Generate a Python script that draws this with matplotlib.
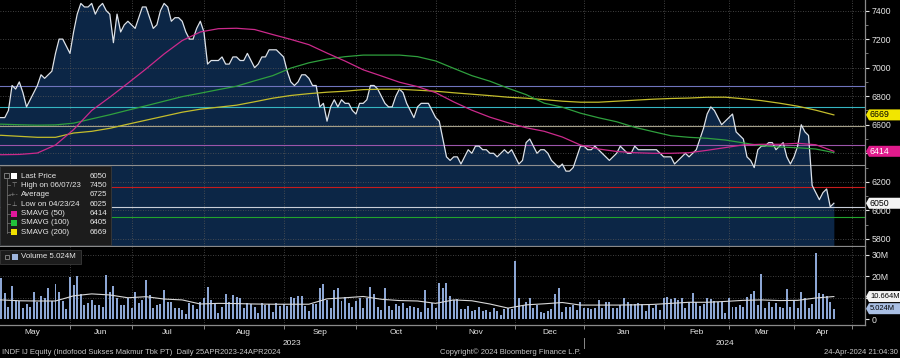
import numpy as np
import pandas as pd
import matplotlib
matplotlib.use('Agg')
import matplotlib.pyplot as plt
from matplotlib.patches import Rectangle, Polygon
import matplotlib.transforms as mtransforms

plt.rcParams['font.family'] = ['Liberation Sans', 'DejaVu Sans']

# ── Data ─────────────────────────────────────────────────────────────────────
# IDX exchange holidays, used to build the trading-day axis
holidays = ['2023-05-01', '2023-05-18', '2023-06-01', '2023-06-02', '2023-06-28',
            '2023-06-29', '2023-06-30', '2023-07-19', '2023-08-17', '2023-09-28',
            '2023-12-25', '2023-12-26', '2024-01-01', '2024-02-08', '2024-02-09',
            '2024-02-14', '2024-03-11', '2024-03-12', '2024-03-29', '2024-04-08',
            '2024-04-09', '2024-04-10', '2024-04-11', '2024-04-12', '2024-04-15',
            '2024-05-01', '2024-05-09', '2024-05-10']

# daily close, one value per trading day from 26-Apr-2023
price = [
    6625, 6625, 6650, 6650, 6650, 6650, 6650, 6700, 6875, 6850,
    6900, 6825, 6725, 6775, 6825, 6875, 6950, 6925, 6950, 6975,
    7100, 7200, 7200, 7150, 7100, 7250, 7375, 7450, 7425, 7425,
    7450, 7375, 7425, 7450, 7400, 7375, 7175, 7375, 7250, 7300,
    7325, 7300, 7275, 7350, 7425, 7425, 7350, 7275, 7300, 7400,
    7450, 7425, 7325, 7350, 7350, 7325, 7250, 7200, 7200, 7275,
    7325, 7250, 7025, 7050, 7050, 7050, 7075, 7025, 7025, 7075,
    7075, 7050, 7050, 7100, 7050, 7000, 7025, 7075, 7075, 7125,
    7125, 7125, 7100, 7075, 6975, 6900, 6875, 6900, 6950, 6950,
    6925, 6875, 6875, 6725, 6750, 6625, 6725, 6775, 6725, 6775,
    6750, 6750, 6700, 6675, 6750, 6750, 6775, 6875, 6875, 6850,
    6800, 6750, 6725, 6725, 6800, 6850, 6825, 6750, 6700, 6650,
    6725, 6750, 6750, 6750, 6700, 6650, 6625, 6500, 6375, 6350,
    6375, 6375, 6325, 6375, 6425, 6400, 6450, 6450, 6425, 6425,
    6400, 6400, 6375, 6400, 6425, 6400, 6425, 6375, 6325, 6350,
    6475, 6500, 6450, 6400, 6425, 6425, 6400, 6350, 6325, 6300,
    6325, 6275, 6275, 6300, 6375, 6450, 6450, 6425, 6425, 6450,
    6425, 6400, 6375, 6350, 6375, 6400, 6450, 6425, 6400, 6400,
    6450, 6425, 6425, 6425, 6425, 6425, 6425, 6400, 6375, 6375,
    6375, 6325, 6350, 6375, 6400, 6375, 6400, 6425, 6500, 6575,
    6675, 6725, 6700, 6650, 6600, 6625, 6650, 6675, 6550, 6525,
    6500, 6375, 6350, 6300, 6425, 6450, 6450, 6475, 6475, 6425,
    6450, 6475, 6375, 6325, 6375, 6450, 6600, 6550, 6525, 6175,
    6125, 6075, 6125, 6150, 6025, 6050,
]

# daily volume, millions of shares
volume_m = [
    9.0, 11.0, 8.0, 13.0, 10.0,
    19.2, 12.2, 6.0, 15.7, 9.1, 8.6, 5.2, 7.1, 6.0, 12.9,
    8.3, 11.1, 10.2, 14.5, 8.6, 16.5, 12.6, 8.6, 4.9, 19.9,
    16.0, 20.4, 11.7, 6.8, 7.5, 9.1, 6.8, 6.8, 6.0, 20.7,
    12.6, 15.7, 9.9, 6.8, 6.8, 9.9, 5.2, 12.9, 7.5, 9.1,
    18.4, 11.4, 5.2, 6.8, 7.1, 13.7, 8.0, 8.0, 5.5, 5.2,
    4.4, 2.4, 7.5, 6.8, 4.9, 8.3, 10.2, 15.3, 9.1, 7.5,
    2.9, 6.0, 11.7, 8.0, 11.4, 10.6, 9.9, 5.2, 7.5, 7.1,
    6.0, 2.9, 7.5, 6.8, 7.1, 3.7, 7.5, 6.4, 7.1, 6.4,
    10.6, 10.2, 11.1, 11.1, 6.4, 4.0, 7.1, 7.1, 14.8, 16.4,
    9.1, 5.2, 13.7, 14.5, 8.6, 10.6, 7.5, 6.0, 8.6, 9.9,
    5.2, 9.9, 15.1, 11.7, 6.0, 4.4, 14.5, 6.4, 4.4, 7.1,
    6.4, 7.5, 5.2, 6.4, 6.0, 5.2, 3.3, 13.7, 5.5, 7.5,
    5.5, 16.8, 14.8, 16.8, 11.1,
    9.1, 9.5, 4.9, 4.9, 6.3, 4.0, 4.4, 6.0, 4.0, 4.4,
    3.7, 5.2, 4.0, 2.1, 4.9, 5.2, 4.9, 27.2, 10.2, 6.8,
    8.0, 10.2, 5.2, 6.8, 3.7, 2.9, 4.0, 4.9, 11.7, 14.8,
    3.7, 6.0, 6.0, 6.8, 4.4, 8.3, 5.2, 5.2, 4.9, 5.2,
    9.1, 5.5, 8.0, 8.0, 5.2, 5.5, 6.8, 9.9, 8.0, 7.1,
    7.1, 7.5, 7.1, 4.0, 6.8, 5.2, 6.8, 4.4, 10.2, 10.6,
    9.5, 9.9, 9.1, 10.2, 5.2, 8.0, 12.2, 8.0, 6.4, 7.1,
    10.2, 9.5, 8.6, 8.3, 8.3, 2.9, 10.2, 6.0, 6.0, 6.8,
    6.0, 10.6, 11.7, 13.3, 6.8, 21.0, 5.2, 8.3, 6.0, 7.5,
    6.0, 5.5, 14.2, 6.0, 9.1, 5.2, 12.6, 9.9, 5.2, 7.1,
    30.8, 12.2, 11.7, 11.1, 8.0, 5.024,
]

# moving averages, sampled every 5th trading day
ma_step = 5
sma50 = [6400, 6390, 6392, 6402, 6458, 6566, 6700, 6793, 6891, 6991,
         7096, 7190, 7250, 7273, 7276, 7267, 7232, 7198, 7161, 7102,
         7046, 6985, 6942, 6898, 6867, 6825, 6760, 6702, 6653, 6614,
         6579, 6554, 6514, 6458, 6430, 6413, 6404, 6400, 6400, 6404,
         6421, 6440, 6459, 6463, 6463, 6470, 6460, 6414]
sma100 = [6604, 6604, 6600, 6597, 6599, 6611, 6641, 6670, 6702, 6733,
          6765, 6797, 6821, 6846, 6870, 6908, 6944, 6997, 7034, 7060,
          7077, 7088, 7088, 7088, 7077, 7047, 6995, 6944, 6905, 6856,
          6811, 6751, 6723, 6681, 6649, 6621, 6582, 6552, 6523, 6512,
          6505, 6493, 6473, 6453, 6444, 6439, 6430, 6405]
sma200 = [6526, 6526, 6519, 6512, 6512, 6542, 6554, 6575, 6604, 6632,
          6660, 6688, 6709, 6723, 6737, 6761, 6786, 6805, 6818, 6828,
          6835, 6846, 6849, 6849, 6842, 6835, 6824, 6814, 6804, 6793,
          6786, 6776, 6765, 6758, 6758, 6765, 6772, 6779, 6784, 6787,
          6793, 6793, 6782, 6769, 6751, 6730, 6702, 6669]
vol_avg_m = [9.0, 9.1, 8.7, 8.6, 8.6, 11.0, 11.9, 11.4, 10.1, 10.6,
             9.5, 9.1, 7.2, 7.5, 7.4, 7.2, 7.1, 7.1, 7.1, 9.6,
             10.1, 10.7, 9.4, 8.8, 8.6, 7.5, 9.1, 8.7, 7.2, 5.3,
             6.8, 7.3, 7.9, 6.7, 6.7, 6.7, 6.8, 7.0, 7.5, 8.0,
             8.0, 8.4, 8.9, 9.1, 8.8, 8.9, 10.0, 10.664]

# horizontal level lines drawn on the chart
levels = [6870, 6725, 6589, 6456, 6316, 6161, 6025, 5951]
level_colors = ['#6f74bd', '#35b6c2', '#a39e88', '#9b55aa', '#8e8e8e',
                '#c81c1c', '#c8ced8', '#22a52c']

legend_labels = ['Last Price', 'High on 06/07/23', 'Average', 'Low on 04/23/24',
                 'SMAVG (50)', 'SMAVG (100)', 'SMAVG (200)']
legend_values = ['6050', '7450', '6725', '6025', '6414', '6405', '6669']

price_ticks = [5800, 6000, 6200, 6400, 6600, 6800, 7000, 7200, 7400]
price_tick_labels = ['5800', '6000', '6200', '', '6600', '6800', '7000', '7200', '7400']
vol_ticks = [0, 10, 20, 30]
vol_tick_labels = ['0', '', '20M', '30M']

# ── Colours ──────────────────────────────────────────────────────────────────
C_FILL = '#0c2646'
C_PRICE = '#dce2ea'
C_MA50 = '#cc2a8c'
C_MA100 = '#2fa03e'
C_MA200 = '#c4bd2c'
C_VOL = '#8ca6d4'
C_GRID = '#565656'
C_AXIS = '#8a8a8a'
C_TEXT = '#e6e6e6'

# ── Trading-day calendar ─────────────────────────────────────────────────────
days = pd.bdate_range('2023-04-26', '2024-05-10')
days = days[~days.isin(pd.to_datetime(holidays))]
n = len(price)
x = np.arange(n)
x_ma = np.arange(0, n, ma_step)

periods = days.to_period('M')
starts = [i for i in range(1, len(days)) if periods[i] != periods[i - 1]]
X_LEFT, X_RIGHT = 4.67, 243.6

W, H = 900, 358


def px_box(left, top, right, bottom):
    return [left / W, 1 - bottom / H, (right - left) / W, (bottom - top) / H]


fig = plt.figure(figsize=(W / 100, H / 100), dpi=100, facecolor='black')
ax_p = fig.add_axes(px_box(0, 0, 865, 245.5))
ax_v = fig.add_axes(px_box(0, 247, 865, 325))

# ── Price panel ──────────────────────────────────────────────────────────────
P_LO, P_HI = 5754, 7474
ax_p.set_facecolor('black')
ax_p.fill_between(x, price, P_LO, color=C_FILL, lw=0, zorder=1)
for yv in price_ticks:
    ax_p.axhline(yv, color=C_GRID, lw=0.6, ls=(0, (1, 2)), zorder=1.5)
for s in starts:
    ax_p.axvline(s, color=C_GRID, lw=0.6, ls=(0, (1, 2)), zorder=1.5)
for lvl, col in zip(levels, level_colors):
    ax_p.axhline(lvl, color=col, lw=0.8, zorder=2)
ax_p.plot(x, price, color=C_PRICE, lw=0.9, zorder=3)
ax_p.plot(x_ma, sma200, color=C_MA200, lw=0.9, zorder=4)
ax_p.plot(x_ma, sma100, color=C_MA100, lw=0.9, zorder=4)
ax_p.plot(x_ma, sma50, color=C_MA50, lw=0.9, zorder=4)

ax_p.set_xlim(X_LEFT, X_RIGHT)
ax_p.set_ylim(P_LO, P_HI)
ax_p.set_yticks(price_ticks)
ax_p.set_yticklabels(price_tick_labels)
ax_p.set_yticks(range(5900, 7401, 200), minor=True)
ax_p.yaxis.tick_right()
ax_p.tick_params(axis='y', which='major', colors=C_TEXT, labelsize=6.3,
                 length=3, width=0.8, pad=1.5)
ax_p.tick_params(axis='y', which='minor', colors=C_AXIS, length=2, width=0.6)
ax_p.tick_params(axis='x', bottom=False, labelbottom=False)

# ── Volume panel ─────────────────────────────────────────────────────────────
V_LO, V_HI = -2.56, 33.7
ax_v.set_facecolor('black')
for yv in vol_ticks[1:]:
    ax_v.axhline(yv, color=C_GRID, lw=0.6, ls=(0, (1, 2)), zorder=0.5)
for s in starts:
    ax_v.axvline(s, color=C_GRID, lw=0.6, ls=(0, (1, 2)), zorder=0.5)
ax_v.bar(x, volume_m, width=0.55, color=C_VOL, lw=0, zorder=2)
ax_v.plot(x_ma, vol_avg_m, color='#d8d8d8', lw=0.8, zorder=3)
ax_v.set_xlim(X_LEFT, X_RIGHT)
ax_v.set_ylim(V_LO, V_HI)
ax_v.yaxis.tick_right()
ax_v.set_yticks(vol_ticks)
ax_v.set_yticklabels(vol_tick_labels)
ax_v.tick_params(axis='y', colors=C_TEXT, labelsize=6.3, length=3, width=0.8, pad=1.5)

# month ticks at month starts, names centred in each month
centres, names = [], []
for a, b in zip(starts[:-1], starts[1:]):
    centres.append((a + b) / 2)
    names.append(days[a].strftime('%b'))
ax_v.set_xticks([s for s in starts if X_LEFT <= s <= X_RIGHT])
ax_v.set_xticklabels([])
ax_v.set_xticks(centres, minor=True)
ax_v.set_xticklabels(names, minor=True)
ax_v.tick_params(axis='x', which='major', colors=C_AXIS, length=3, width=0.7)
ax_v.tick_params(axis='x', which='minor', length=0, labelsize=6,
                 labelcolor=C_TEXT, pad=3)

jan = next(s for s in starts if days[s].month == 1)
blend = mtransforms.blended_transform_factory(ax_v.transData, ax_v.transAxes)
ax_v.text((X_LEFT + jan) / 2, -0.235, '2023', transform=blend, ha='center',
          va='center', color=C_TEXT, fontsize=6)
ax_v.text((jan + X_RIGHT) / 2, -0.235, '2024', transform=blend, ha='center',
          va='center', color=C_TEXT, fontsize=6)
ax_v.plot([jan, jan], [-0.17, -0.30], transform=blend, color=C_AXIS, lw=0.7,
          clip_on=False)

for ax in (ax_p, ax_v):
    for side in ('top', 'left'):
        ax.spines[side].set_visible(False)
    for side in ('right', 'bottom'):
        ax.spines[side].set_color(C_AXIS)
        ax.spines[side].set_linewidth(0.9)

# ── Overlay in pixel units: legends, tags, footer ────────────────────────────
ov = fig.add_axes([0, 0, 1, 1])
ov.set_xlim(0, W)
ov.set_ylim(H, 0)
ov.axis('off')
ov.set_zorder(5)
ov.patch.set_alpha(0)

fig.canvas.draw()


def y_pix(ax, val):
    return H - ax.transData.transform((0, val))[1]


# price legend
ov.add_patch(Rectangle((0, 166), 111, 79, fc='#1c1c1c', ec='#3a3a3a', lw=0.6))
ov.plot([6.5, 6.5], [179, 233], color='#6a6a6a', lw=0.6)
ov.add_patch(Rectangle((4, 172.5), 5, 5, fc='none', ec='#8a8a8a', lw=0.6))
swatches = ['#ffffff', None, None, None, '#e0189c', '#22c03a', '#f0e000']
glyphs = [None, '\u22a4', '-+-', '\u22a5', None, None, None]
for k, (lab, val) in enumerate(zip(legend_labels, legend_values)):
    yy = 176 + 9.4 * k
    if k:
        ov.plot([6.5, 9.5], [yy, yy], color='#6a6a6a', lw=0.6)
    if swatches[k]:
        ov.add_patch(Rectangle((11, yy - 3), 6, 6, fc=swatches[k], ec='none'))
    else:
        ov.text(14, yy, glyphs[k], color='#9a9a9a', fontsize=4.5, ha='center',
                va='center', family='DejaVu Sans')
    ov.text(21, yy, lab, color=C_TEXT, fontsize=5.7, va='center', ha='left')
    ov.text(107, yy, val, color=C_TEXT, fontsize=5.7, va='center', ha='right')

# volume legend
ov.add_patch(Rectangle((0, 250), 81, 14, fc='#1c1c1c', ec='#3a3a3a', lw=0.6))
ov.add_patch(Rectangle((5, 255), 4, 4, fc='none', ec='#8a8a8a', lw=0.6))
ov.add_patch(Rectangle((12, 254), 6, 6, fc='#9db4dc', ec='none'))
ov.text(21, 257, 'Volume 5.024M', color=C_TEXT, fontsize=5.7, va='center')


def tag(ax, val, label, fc, tc, size=6.3):
    yy = y_pix(ax, val)
    ov.add_patch(Polygon([(866, yy), (869, yy - 5.5), (900, yy - 5.5),
                          (900, yy + 5.5), (869, yy + 5.5)], closed=True,
                         fc=fc, ec='none'))
    ov.text(870, yy, label, color=tc, fontsize=size, va='center', ha='left')


tag(ax_p, sma200[-1], f'{sma200[-1]}', '#f2e600', 'black')
tag(ax_p, sma50[-1], f'{sma50[-1]}', '#e01b8c', 'white')
tag(ax_p, price[-1], f'{price[-1]}', '#f4f4f4', 'black')
tag(ax_v, vol_avg_m[-1], f'{vol_avg_m[-1]:.3f}M', '#f4f4f4', 'black', 5.4)
tag(ax_v, volume_m[-1], f'{volume_m[-1]:.3f}M', '#a9bfe4', 'black', 5.4)

# footer
ov.text(2, 352, 'INDF IJ Equity (Indofood Sukses Makmur Tbk PT)  Daily 25APR2023-24APR2024',
        color='#c8c8c8', fontsize=5.5, va='center', ha='left')
ov.text(510, 352, 'Copyright\u00a9 2024 Bloomberg Finance L.P.', color='#c8c8c8',
        fontsize=5.5, va='center', ha='center')
ov.text(898, 352, '24-Apr-2024 21:04:30', color='#c8c8c8', fontsize=5.5,
        va='center', ha='right')

fig.savefig('out.png', dpi=100, facecolor='black')
